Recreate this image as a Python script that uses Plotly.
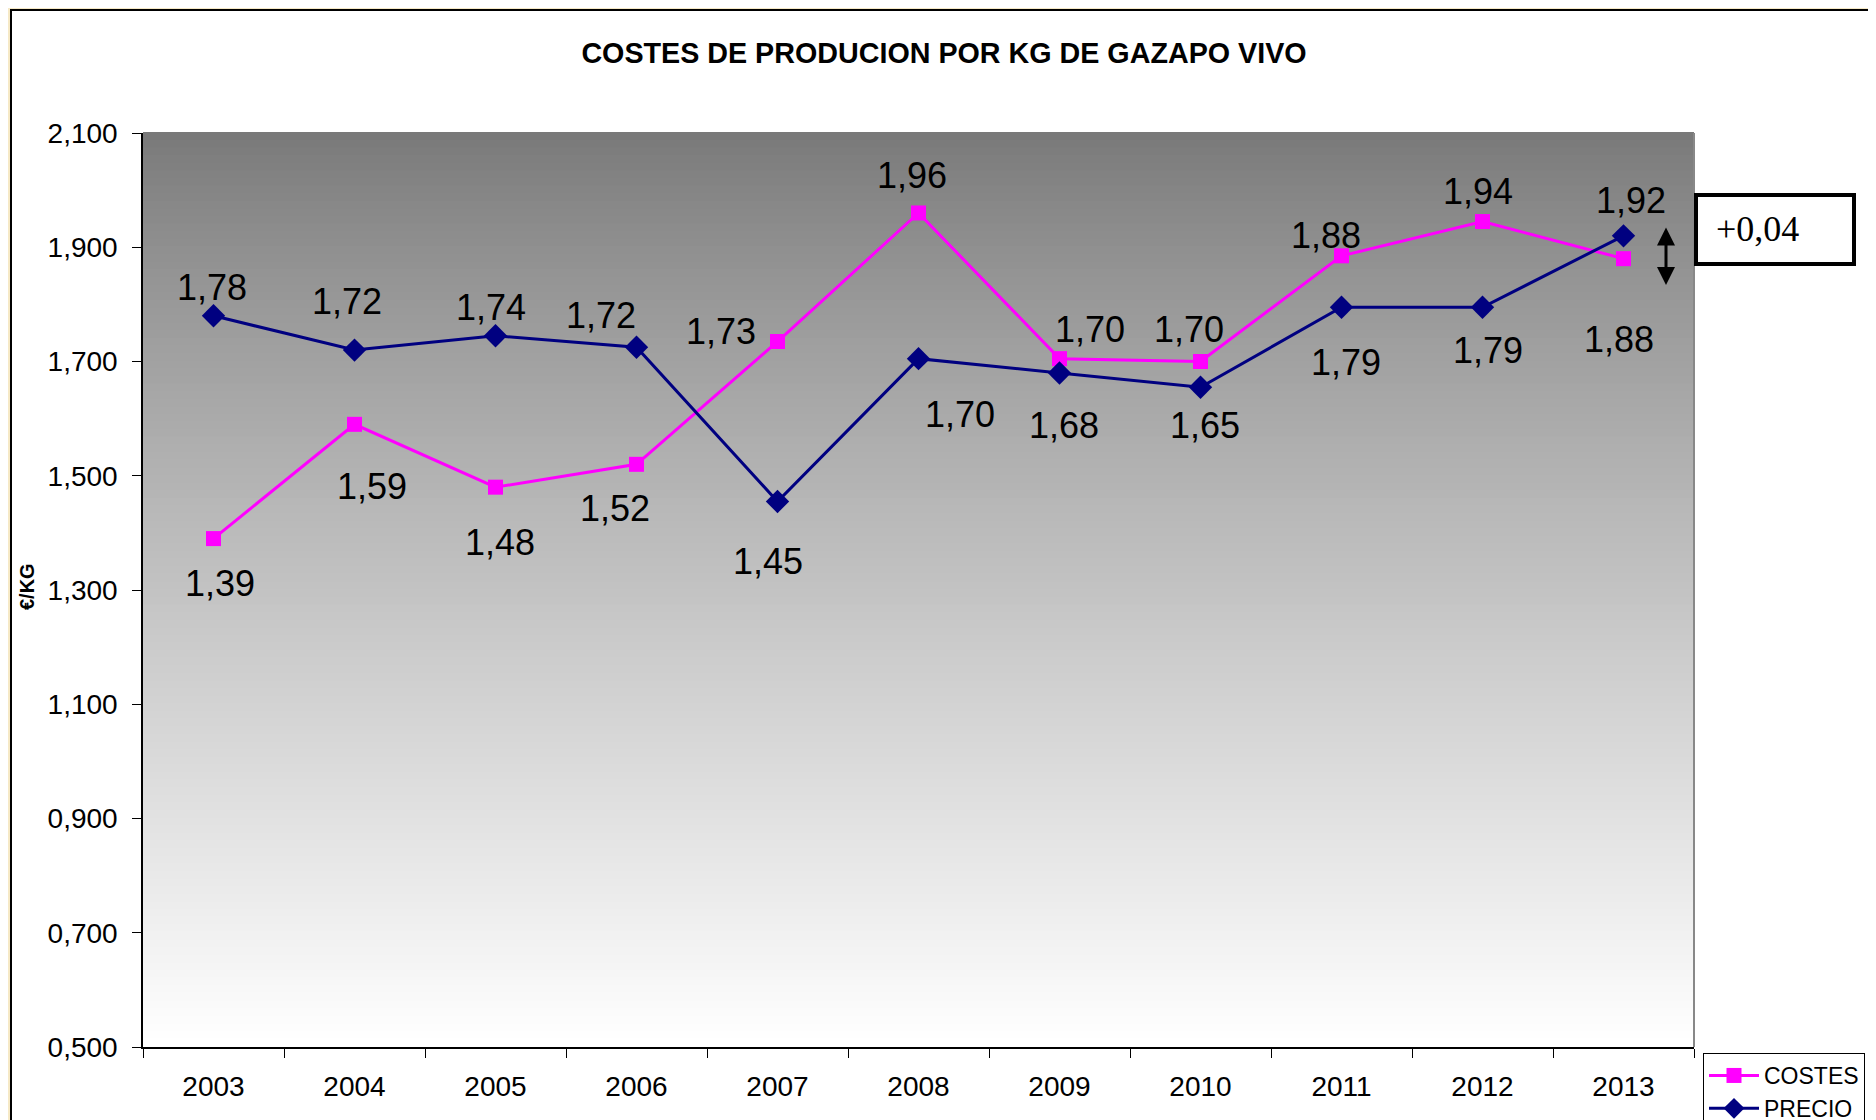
import plotly.graph_objects as go

# 数据
years = ["2003", "2004", "2005", "2006", "2007", "2008", "2009", "2010", "2011", "2012", "2013"]
costes = [1.39, 1.59, 1.48, 1.52, 1.735, 1.96, 1.705, 1.70, 1.885, 1.945, 1.88]
precio = [1.78, 1.72, 1.745, 1.725, 1.455, 1.705, 1.68, 1.655, 1.795, 1.795, 1.92]
costes_labels = ["1,39", "1,59", "1,48", "1,52", "1,73", "1,96", "1,70", "1,70", "1,88", "1,94", "1,88"]
precio_labels = ["1,78", "1,72", "1,74", "1,72", "1,45", "1,70", "1,68", "1,65", "1,79", "1,79", "1,92"]
diff_text = "+0,04"

# 标签偏移 (像素, dx, dy 屏幕向下为正)
costes_off = [(6, 45), (17, 62), (4, 55), (-22, 44), (-57, -10), (-7, -37),
              (30, -29), (-12, -32), (-16, -20), (-5, -30), (-5, 81)]
precio_off = [(-2, -28), (-8, -49), (-5, -28), (-36, -32), (-10, 60), (41, 56),
              (4, 53), (4, 38), (4, 55), (5, 43), (7, -35)]

FONT = "Liberation Sans, Arial, sans-serif"
OFF = 8  # 页面边距
W, H = 1876 - OFF, 1120 - OFF
# 绘图区在页面上的位置
PL, PT, PR, PB = 143, 133, 1694, 1047
L, T = PL - OFF, PT - OFF
R, B = W - (PR - OFF), H - (PB - OFF)
pw, ph = PR - PL, PB - PT


def px_x(x):
    return (x - PL) / pw


def px_y(y):
    return (PB - y) / ph


fig = go.Figure()

fig.add_trace(go.Scatter(
    x=years, y=costes, name="COSTES", mode="lines+markers",
    line=dict(color="#ff00ff", width=3),
    marker=dict(symbol="square", size=15, color="#ff00ff"),
))
fig.add_trace(go.Scatter(
    x=years, y=precio, name="PRECIO", mode="lines+markers",
    line=dict(color="#000080", width=3),
    marker=dict(symbol="diamond", size=18, color="#000080"),
))

shapes = []
# 外框
shapes.append(dict(type="rect", xref="paper", yref="paper",
                   x0=px_x(11), x1=px_x(1871), y0=px_y(1135), y1=px_y(OFF + 2),
                   fillcolor="white", line=dict(color="black", width=2), layer="below"))
# 渐变背景
n = 120
for i in range(n):
    t = i / n
    v = int(round(120 + 135 * (t + 0.5 / n) ** 0.85))
    v = min(v, 255)
    shapes.append(dict(type="rect", xref="paper", yref="paper",
                       x0=0, x1=1, y0=1 - (i + 1) / n, y1=1 - i / n + 0.001,
                       fillcolor=f"rgb({v},{v},{v})", line=dict(width=0), layer="below"))
# 右边线
shapes.append(dict(type="line", xref="paper", yref="paper", x0=1, x1=1, y0=0, y1=1,
                   line=dict(color="#888888", width=2), layer="below"))
# +0,04 方框
shapes.append(dict(type="rect", xref="paper", yref="paper",
                   x0=px_x(1696), x1=px_x(1854), y0=px_y(264), y1=px_y(195),
                   fillcolor="white", line=dict(color="black", width=4)))

annotations = []
for i, (v, txt, (dx, dy)) in enumerate(zip(costes, costes_labels, costes_off)):
    annotations.append(dict(x=i, y=v, text=txt, showarrow=False, xshift=dx, yshift=-dy,
                            font=dict(family=FONT, size=36, color="black")))
for i, (v, txt, (dx, dy)) in enumerate(zip(precio, precio_labels, precio_off)):
    annotations.append(dict(x=i, y=v, text=txt, showarrow=False, xshift=dx, yshift=-dy,
                            font=dict(family=FONT, size=36, color="black")))

annotations.append(dict(xref="paper", yref="paper", x=px_x(1714), y=px_y(229),
                        xanchor="left", yanchor="middle", text=diff_text, showarrow=False,
                        font=dict(family="Liberation Serif, Times New Roman, serif", size=36, color="black")))
# 双向箭头
annotations.append(dict(xref="paper", yref="paper", x=px_x(1666), y=px_y(285),
                        ax=0, ay=-59, text="", showarrow=True,
                        arrowhead=2, startarrowhead=2, arrowside="end+start",
                        arrowsize=1.2, arrowwidth=3, arrowcolor="black"))
# y 轴标题
annotations.append(dict(xref="paper", yref="paper", x=px_x(27), y=px_y(587),
                        xanchor="center", yanchor="middle",
                        text="<b>€/KG</b>", textangle=-90, showarrow=False,
                        font=dict(family=FONT, size=20, color="black")))

fig.update_layout(
    width=W, height=H,
    margin=dict(l=L, r=R, t=T, b=B, autoexpand=False),
    paper_bgcolor="#f6e9c6",
    plot_bgcolor="rgba(0,0,0,0)",
    separators=",.",
    title=dict(text="<b>COSTES DE PRODUCION POR KG DE GAZAPO VIVO</b>",
               xref="container", x=(944 - OFF) / W, xanchor="center",
               yref="container", y=1 - (53 - OFF) / H, yanchor="middle",
               font=dict(family=FONT, size=28.7, color="black")),
    font=dict(family=FONT, size=26, color="black"),
    xaxis=dict(type="category", range=[-0.5, len(years) - 0.5],
               showline=True, linecolor="black", linewidth=1.5,
               ticks="outside", tickson="boundaries", ticklen=9, tickcolor="black",
               showgrid=False, zeroline=False, ticklabelstandoff=14,
               tickfont=dict(family=FONT, size=28)),
    yaxis=dict(range=[0.5, 2.1], tick0=0.5, dtick=0.2, tickformat=".3f",
               showline=True, linecolor="black", linewidth=1.5,
               ticks="outside", ticklen=9, tickcolor="black",
               showgrid=False, zeroline=False, ticklabelstandoff=9,
               tickfont=dict(family=FONT, size=28)),
    legend=dict(x=px_x(1703), y=px_y(1053), xanchor="left", yanchor="top",
                bgcolor="white", bordercolor="black", borderwidth=1,
                font=dict(family=FONT, size=23, color="black"),
                tracegroupgap=0, itemwidth=50),
    shapes=shapes,
    annotations=annotations,
)

fig.write_html("out.html")
